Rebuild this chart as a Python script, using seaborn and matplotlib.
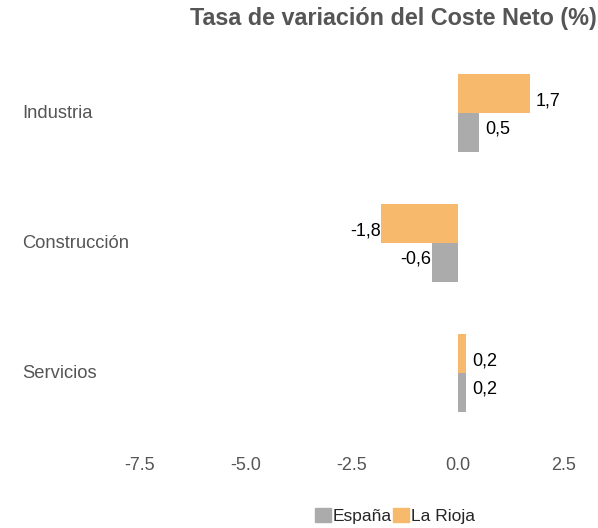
import matplotlib
matplotlib.use("Agg")
import matplotlib.pyplot as plt
import matplotlib.transforms as mtransforms
from matplotlib.patches import Patch
import pandas as pd
import seaborn as sns

sectores = ["Industria", "Construcción", "Servicios"]
espana = [0.5, -0.6, 0.2]
la_rioja = [1.7, -1.8, 0.2]
x_ticks = [-7.5, -5.0, -2.5, 0.0, 2.5]

colores = {"España": "#ABABAB", "La Rioja": "#F7BA6C"}
gris_texto = "#555555"

df = pd.DataFrame({
    "sector": sectores * 2,
    "region": ["España"] * 3 + ["La Rioja"] * 3,
    "valor": espana + la_rioja,
})

sns.set_style("white")
plt.rcParams["font.family"] = ["Liberation Sans", "DejaVu Sans"]

fig = plt.figure(figsize=(5.98, 5.28), dpi=100)
# axes in pixels: left 106, right 589, top 48, bottom 438
W, H = 598, 528
ax = fig.add_axes([106 / W, (H - 438) / H, (589 - 106) / W, (438 - 48) / H])

sns.barplot(data=df, y="sector", x="valor", hue="region", hue_order=["La Rioja", "España"],
            palette=colores, orient="h", width=0.6, order=sectores, legend=False, ax=ax,
            saturation=1, linewidth=0)

ax.set_xlim(-8.3, 3.1)
ax.set_ylim(2.5, -0.5)
ax.set_xticks(x_ticks)
ax.set_xticklabels([f"{t:.1f}" for t in x_ticks], color=gris_texto, fontsize=13)
ax.tick_params(axis="x", length=0, pad=14)
ax.set_yticks([])
ax.set_xlabel("")
ax.set_ylabel("")
sns.despine(ax=ax, left=True, bottom=True)

# category labels, left aligned near the figure edge
trans = mtransforms.blended_transform_factory(fig.transFigure, ax.transData)
for i, s in enumerate(sectores):
    ax.text(22 / W, i, s, transform=trans, ha="left", va="center", fontsize=13.2, color=gris_texto)

# value labels
for i in range(len(sectores)):
    for val, dy_pts, pos in [(la_rioja[i], -5.5, i - 0.15), (espana[i], 2.5, i + 0.15)]:
        txt = f"{val:.1f}".replace(".", ",")
        off = 4.5 if val >= 0 else -0.5
        ax.annotate(txt, (val, pos), xytext=(off, dy_pts), textcoords="offset points",
                    ha="left" if val >= 0 else "right", va="center", fontsize=13, color="black")

fig.text(393 / W, 1 - 18 / H, "Tasa de variación del Coste Neto (%)", ha="center", va="center",
         fontsize=16.8, fontweight="bold", color=gris_texto)

handles = [Patch(color=colores["España"], label="España"), Patch(color=colores["La Rioja"], label="La Rioja")]
fig.legend(handles=handles, loc="center", bbox_to_anchor=(395 / W, 1 - 516 / H), ncol=2, frameon=False,
           fontsize=12.5, handlelength=0.9, handleheight=0.9, handletextpad=0.1, columnspacing=0.1)

fig.savefig("out.png", dpi=100)
